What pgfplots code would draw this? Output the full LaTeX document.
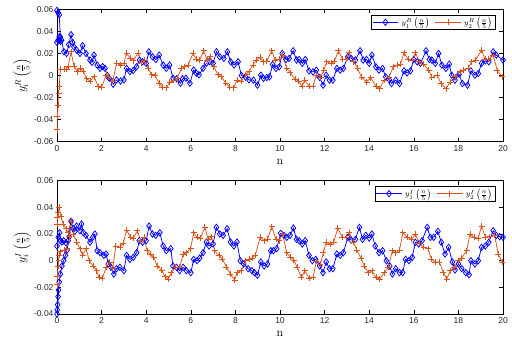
\documentclass[border=0pt]{standalone}
\usepackage{pgfplots}
\pgfplotsset{compat=1.18}
\usepackage{fontspec}
\newfontfamily\arial{Liberation Sans}
\definecolor{mblue}{rgb}{0,0,1}
\definecolor{morange}{rgb}{0.85,0.325,0.098}
\definecolor{axgray}{rgb}{0.15,0.15,0.15}
\pgfplotsset{
  mystyle/.style={
    scale only axis, width=446pt,
    xmin=0, xmax=20, xtick={0,2,...,20},
    scaled y ticks=false, scaled x ticks=false,
    tick align=inside, tick pos=both,
    major tick length=4pt,
    axis line style={black, line width=0.5pt},
    tick style={black, line width=0.5pt},
    /pgf/number format/assume math mode=true,
    ticklabel style={font=\arial\fontsize{8.5}{9}\selectfont, text=axgray},
    label style={font=\fontsize{12}{13}\selectfont},
    legend style={font=\fontsize{8}{9}\selectfont, at={(rel axis cs:1,1)}, anchor=north east,
      xshift=-8pt, yshift=-5.5pt, legend columns=2, draw=black, line width=0.5pt,
      inner sep=0.5pt, row sep=0pt,
      /tikz/every odd column/.append style={column sep=1pt},
      /tikz/every even column/.append style={column sep=3pt}},
    legend image code/.code={\draw[mark repeat=2,mark phase=2] plot coordinates {(0cm,0cm) (0.45cm,0cm) (0.9cm,0cm)};},
    xlabel={$\mathrm{n}$},
    xlabel style={at={(axis description cs:0.5,-0.155)}, anchor=center},
    ylabel style={at={(axis description cs:-0.078,0.5)}, anchor=center},
  },
  bl/.style={color=mblue, line width=0.75pt, mark=diamond, mark size=3.2pt, mark options={solid, line width=0.75pt}},
  rd/.style={color=morange, line width=0.75pt, mark=+, mark size=3pt, mark options={solid, line width=0.75pt}},
}
\begin{document}
\begin{tikzpicture}
\useasboundingbox (0,0) rectangle (512pt,343pt);
\begin{axis}[mystyle, height=132.4pt, at={(57pt,201.3pt)}, anchor=south west,
  ymin=-0.06, ymax=0.06, ytick={-0.06,-0.04,-0.02,0,0.02,0.04,0.06},
  yticklabels={-0.06,-0.04,-0.02,0,0.02,0.04,0.06},
  ylabel={$y_i^R\left(\frac{n}{5}\right)$}]
\addplot[bl] coordinates {(0,0.059)(0.05,0.057)(0.1,0.055)(0.15,0.035)(0.2,0.032)(0.31,0.0215)(0.43,0.02)(0.53,0.028)(0.63,0.037)(0.7,0.03)(0.76,0.026)(0.88,0.023)(1.03,0.02)(1.15,0.027)(1.3,0.02)(1.48,0.014)(1.57,0.012)(1.66,0.0185)(1.8,0.0095)(1.93,0.0065)(2.05,0.008)(2.15,0.0065)(2.25,0)(2.34,-0.0025)(2.52,-0.008)(2.67,-0.004)(2.85,-0.005)(3.0,-0.004)(3.12,0.0065)(3.27,0.0035)(3.42,0.0045)(3.57,0.008)(3.7,0.014)(3.84,0.0125)(4.0,0.011)(4.12,0.0215)(4.28,0.017)(4.43,0.0145)(4.58,0.0185)(4.76,0.0095)(4.9,0.0065)(5.05,0.0095)(5.2,-0.0025)(5.36,-0.003)(5.54,-0.007)(5.63,-0.003)(5.78,-0.0025)(5.96,-0.007)(6.13,0.005)(6.25,0.002)(6.37,0.0006)(6.55,0.0065)(6.7,0.011)(6.85,0.0125)(7.0,0.011)(7.15,0.0215)(7.3,0.017)(7.48,0.0155)(7.64,0.0215)(7.79,0.0125)(7.94,0.0095)(8.12,0.0125)(8.27,0)(8.46,-0.0015)(8.61,-0.004)(8.81,-0.0042)(8.99,-0.0088)(9.14,0.0003)(9.26,-0.0027)(9.41,-0.0018)(9.53,-0.0012)(9.67,0.01)(9.82,0.0064)(9.97,0.0079)(10.1,0.02)(10.27,0.0145)(10.41,0.0155)(10.59,0.0224)(10.74,0.014)(10.86,0.0145)(11.0,0.011)(11.13,0.0145)(11.3,0.0042)(11.48,0.0033)(11.63,0.0048)(11.78,-0.0018)(11.93,-0.0088)(12.07,0.0003)(12.22,-0.0042)(12.37,-0.0042)(12.55,0.0064)(12.7,0.0048)(12.84,0.0064)(13.04,0.017)(13.19,0.0155)(13.38,0.014)(13.59,0.0224)(13.73,0.014)(13.88,0.0145)(14.0,0.011)(14.12,0.0185)(14.3,0.0079)(14.44,0.0048)(14.6,0.0064)(14.74,-0.0012)(14.89,-0.0036)(15.0,-0.0073)(15.19,-0.0042)(15.36,-0.0073)(15.56,0.0042)(15.7,0.0024)(15.85,0.0042)(16.0,0.0145)(16.15,0.0124)(16.3,0.011)(16.55,0.0224)(16.7,0.0145)(16.81,0.014)(16.96,0.011)(17.11,0.02)(17.26,0.0094)(17.44,0.0064)(17.59,0.0103)(17.7,0.0003)(17.85,-0.0042)(18.03,0.0012)(18.18,-0.0073)(18.41,-0.0088)(18.56,0.0042)(18.74,0.0003)(18.89,0.0018)(19.04,0.011)(19.21,0.0133)(19.36,0.0124)(19.56,0.0215)(19.7,0.0185)(20.0,0.014)};
\addlegendentry{$y_1^R\left(\frac{n}{5}\right)$}
\addplot[rd] coordinates {(0,-0.049)(0.02,-0.037)(0.04,-0.027)(0.07,-0.016)(0.1,-0.01)(0.15,0.0057)(0.31,0.0057)(0.43,0.006)(0.5,0.008)(0.63,0.0215)(0.76,0.0087)(0.91,0.0036)(1.03,0.0066)(1.18,0.004)(1.33,-0.003)(1.48,-0.005)(1.66,-0.001)(1.85,-0.01)(2.0,-0.0105)(2.2,0)(2.3,-0.001)(2.5,-0.005)(2.67,0.011)(2.85,0.0095)(3.0,0.011)(3.12,0.0205)(3.27,0.0155)(3.42,0.0135)(3.64,0.0205)(3.8,0.0115)(3.94,0.014)(4.09,0.0065)(4.24,0.0006)(4.39,0)(4.58,-0.007)(4.73,-0.0105)(4.9,-0.011)(5.06,-0.006)(5.24,-0.004)(5.39,-0.0025)(5.58,0.0065)(5.73,0.008)(5.88,0.0095)(6.1,0.02)(6.25,0.0145)(6.4,0.014)(6.58,0.0225)(6.73,0.014)(6.88,0.017)(7.03,0.008)(7.22,0.0006)(7.37,-0.001)(7.57,-0.007)(7.75,-0.0105)(7.93,-0.011)(8.07,-0.004)(8.27,-0.005)(8.46,0.0006)(8.61,0.0036)(8.79,0.0095)(8.94,0.014)(9.11,0.0164)(9.26,0.0124)(9.41,0.013)(9.63,0.0224)(9.78,0.014)(9.95,0.0145)(10.12,0.0185)(10.3,0.0064)(10.47,0.0024)(10.67,-0.0033)(10.83,-0.005)(10.99,-0.0097)(11.11,-0.0042)(11.3,-0.0097)(11.48,-0.0097)(11.63,0.0003)(11.82,-0.0018)(11.96,0.005)(12.1,0.0124)(12.3,0.011)(12.44,0.013)(12.62,0.0224)(12.81,0.0145)(12.96,0.015)(13.11,0.0206)(13.3,0.0124)(13.48,0.0064)(13.66,-0.0018)(13.88,-0.0058)(14.07,-0.0021)(14.3,-0.0097)(14.47,-0.0118)(14.67,-0.0042)(14.89,-0.0018)(15.08,0.0079)(15.26,0.0094)(15.4,0.01)(15.56,0.0206)(15.75,0.0145)(15.93,0.014)(16.07,0.0206)(16.25,0.0124)(16.44,0.01)(16.67,0.0048)(16.81,-0.0018)(17.04,0.0003)(17.23,-0.0073)(17.44,-0.0118)(17.63,-0.0058)(17.85,-0.0012)(18.07,0.0033)(18.22,0.0048)(18.44,0.0064)(18.59,0.0124)(18.77,0.014)(19.04,0.023)(19.19,0.0145)(19.36,0.0145)(19.56,0.0185)(19.75,0.0042)(19.96,-0.0012)};
\addlegendentry{$y_2^R\left(\frac{n}{5}\right)$}
\addplot[bl, forget plot] coordinates {(0,0.03)(0.05,0.032)(0.1,0.035)(0.15,0.031)(0.2,0.032)};
\end{axis}
\begin{axis}[mystyle, height=133.3pt, at={(57pt,29pt)}, anchor=south west,
  ymin=-0.04, ymax=0.06, ytick={-0.04,-0.02,0,0.02,0.04,0.06},
  yticklabels={-0.04,-0.02,0,0.02,0.04,0.06},
  xlabel style={at={(axis description cs:0.5,-0.15)}, anchor=center},
  ylabel={$y_i^I\left(\frac{n}{5}\right)$}]
\addplot[bl] coordinates {(0,-0.04)(0.01,-0.037)(0.03,-0.033)(0.05,-0.027)(0.07,-0.022)(0.1,-0.016)(0.15,-0.01)(0.22,-0.004)(0.3,0.0)(0.38,0.004)(0.45,0.008)(0.55,0.018)(0.63,0.0295)(0.73,0.024)(0.8,0.022)(0.88,0.026)(1.03,0.0225)(1.1,0.0275)(1.18,0.021)(1.3,0.019)(1.48,0.0138)(1.6,0.0175)(1.7,0.02)(1.8,0.0075)(1.93,0.006)(2.1,0.004)(2.2,0.005)(2.3,-0.0025)(2.42,-0.005)(2.55,-0.01)(2.67,-0.006)(2.82,-0.005)(3.0,-0.0075)(3.12,0.004)(3.27,0.001)(3.42,0.0025)(3.57,0.006)(3.69,0.015)(3.84,0.0138)(4.0,0.015)(4.13,0.026)(4.28,0.02)(4.43,0.019)(4.61,0.021)(4.76,0.011)(4.9,0.0075)(5.1,0.009)(5.2,-0.004)(5.36,-0.005)(5.5,-0.0075)(5.66,-0.005)(5.8,-0.0075)(6.0,-0.009)(6.13,0.001)(6.28,0)(6.4,0.002)(6.55,0.006)(6.7,0.014)(6.82,0.011)(7.0,0.0125)(7.15,0.025)(7.3,0.02)(7.45,0.019)(7.63,0.024)(7.78,0.014)(7.93,0.011)(8.07,0.014)(8.22,0)(8.37,-0.0025)(8.57,-0.006)(8.74,-0.0075)(8.85,-0.009)(8.99,-0.011)(9.14,-0.001)(9.29,-0.004)(9.44,-0.0025)(9.59,0.0075)(9.7,0.0075)(9.85,0.009)(10.03,0.0205)(10.18,0.019)(10.3,0.0175)(10.45,0.019)(10.6,0.0245)(10.74,0.016)(10.86,0.015)(11.0,0.0125)(11.13,0.015)(11.3,0.004)(11.45,0)(11.6,0.001)(11.78,-0.004)(11.93,-0.009)(12.07,-0.001)(12.22,-0.006)(12.37,-0.006)(12.55,0.005)(12.7,0.004)(12.84,0.006)(13.04,0.0175)(13.19,0.0155)(13.38,0.016)(13.56,0.025)(13.7,0.016)(13.85,0.019)(14.0,0.017)(14.12,0.02)(14.27,0.011)(14.44,0.006)(14.6,0.0075)(14.77,0)(14.92,-0.004)(15.04,-0.01)(15.19,-0.006)(15.36,-0.009)(15.5,-0.009)(15.63,0.001)(15.78,0)(15.93,0.0025)(16.07,0.0138)(16.22,0.0125)(16.37,0.015)(16.6,0.025)(16.74,0.0175)(16.89,0.0175)(17.08,0.022)(17.23,0.0138)(17.4,0.005)(17.56,0.01)(17.73,-0.001)(17.85,-0.007)(18.0,-0.0025)(18.15,-0.006)(18.33,-0.009)(18.48,-0.0105)(18.56,0)(18.74,-0.0025)(18.89,0)(19.04,0.01)(19.21,0.011)(19.36,0.0138)(19.56,0.0225)(19.7,0.019)(19.85,0.018)(20.0,0.0175)};
\addlegendentry{$y_1^I\left(\frac{n}{5}\right)$}
\addplot[rd] coordinates {(0,0.0275)(0.01,0.0325)(0.04,0.036)(0.1,0.04)(0.18,0.033)(0.28,0.0275)(0.4,0.024)(0.5,0.021)(0.63,0.0295)(0.73,0.02)(0.88,0.014)(1.03,0.009)(1.15,0.004)(1.3,0.009)(1.45,0)(1.63,-0.004)(1.78,-0.0075)(1.88,-0.0125)(2.04,-0.013)(2.2,-0.005)(2.37,-0.001)(2.5,-0.0055)(2.64,0.011)(2.82,0.01)(2.97,0.013)(3.12,0.023)(3.3,0.0175)(3.42,0.0168)(3.6,0.0225)(3.76,0.015)(3.9,0.0175)(4.04,0.0075)(4.19,0.005)(4.34,0.0025)(4.49,-0.004)(4.69,-0.007)(4.84,-0.012)(4.99,-0.0138)(5.13,-0.009)(5.31,-0.005)(5.5,-0.005)(5.66,0.005)(5.8,0.006)(5.99,0.009)(6.13,0.021)(6.28,0.0175)(6.43,0.017)(6.63,0.025)(6.78,0.016)(6.93,0.018)(7.07,0.0075)(7.27,0.004)(7.42,0.001)(7.6,-0.005)(7.78,-0.01)(7.97,-0.0145)(8.07,-0.009)(8.27,-0.0075)(8.46,0)(8.61,0.001)(8.74,0.002)(8.89,0.004)(9.11,0.0175)(9.29,0.015)(9.44,0.016)(9.63,0.0255)(9.82,0.016)(9.97,0.015)(10.12,0.02)(10.3,0.006)(10.47,0.0025)(10.62,0.0005)(10.77,-0.005)(10.96,-0.0125)(11.11,-0.0075)(11.3,-0.013)(11.48,-0.0125)(11.63,-0.0005)(11.81,-0.0025)(11.95,0.006)(12.07,0.0138)(12.25,0.0125)(12.41,0.014)(12.59,0.0245)(12.79,0.0175)(12.96,0.0175)(13.11,0.021)(13.29,0.0138)(13.44,0.008)(13.63,0.002)(13.78,-0.004)(13.96,-0.009)(14.12,-0.0075)(14.3,-0.0125)(14.47,-0.0138)(14.67,-0.009)(14.86,-0.005)(15.04,0.0075)(15.19,0.006)(15.36,0.008)(15.51,0.021)(15.7,0.0175)(15.9,0.016)(16.07,0.02)(16.25,0.013)(16.44,0.01)(16.64,0.009)(16.79,0.001)(16.96,-0.001)(17.14,-0.001)(17.33,-0.009)(17.48,-0.0138)(17.63,-0.0075)(17.82,-0.005)(18.0,0)(18.15,0.002)(18.37,0.0075)(18.52,0.02)(18.71,0.0175)(18.89,0.017)(19.04,0.026)(19.21,0.0175)(19.41,0.018)(19.63,0.019)(19.78,0.005)(19.96,-0.001)};
\addlegendentry{$y_2^I\left(\frac{n}{5}\right)$}
\addplot[bl, forget plot] coordinates {(0,0.011)(0.06,0.0175)(0.12,0.021)(0.15,0.015)(0.22,0.014)(0.3,0.015)(0.4,0.0135)(0.5,0.015)(0.63,0.0295)};
\addplot[rd, forget plot] coordinates {(0,-0.018)(0.02,-0.012)(0.04,-0.004)(0.07,0.0)(0.1,0.004)(0.15,0.0068)(0.31,0.008)(0.43,0.009)(0.55,0.018)(0.63,0.0295)};
\end{axis}
\end{tikzpicture}
\end{document}
